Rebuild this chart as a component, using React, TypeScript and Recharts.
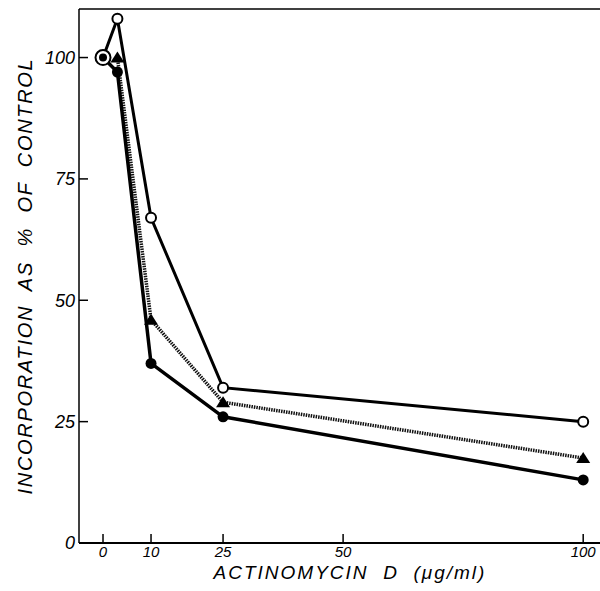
import { Label, Line, LineChart, ReferenceLine, XAxis, YAxis } from 'recharts';

// doses in µg/ml and incorporation (% of control)
const doses = [0, 3, 10, 25, 100];
const openCircles = [100, 108, 67, 32, 25];
const triangles = [null, 100, 46, 29, 17.5];
const filledCircles = [100, 97, 37, 26, 13];

const xTicks = [0, 10, 25, 50, 100];
const yTicks = [0, 25, 50, 75, 100];

const data = doses.map((dose, i) => ({
    dose,
    open: openCircles[i],
    tri: triangles[i],
    filled: filledCircles[i],
}));

const FONT = '"Liberation Sans", Arial, sans-serif';

function OpenDot(props: any) {
    const { cx, cy, index } = props;
    if (cx == null || cy == null) return <g key={`o${index}`} />;
    const r = index === 0 ? 7.5 : 5;
    return <circle key={`o${index}`} cx={cx} cy={cy} r={r} fill="#fff" stroke="#000" strokeWidth={2} />;
}

function FilledDot(props: any) {
    const { cx, cy, index } = props;
    if (cx == null || cy == null) return <g key={`f${index}`} />;
    const r = index === 0 ? 4 : 5.5;
    return <circle key={`f${index}`} cx={cx} cy={cy} r={r} fill="#000" />;
}

function TriDot(props: any) {
    const { cx, cy, index, value } = props;
    if (cx == null || cy == null || value == null) return <g key={`t${index}`} />;
    const pts = `${cx},${cy - 6} ${cx + 7},${cy + 5} ${cx - 7},${cy + 5}`;
    return <polygon key={`t${index}`} points={pts} fill="#000" />;
}

// ticks point into the plot, so draw them by hand
function YTick(props: any) {
    const { x, y, payload } = props;
    return (
        <g>
            {payload.value !== 0 && <line x1={x} y1={y} x2={x + 9} y2={y} stroke="#000" strokeWidth={1.5} />}
            <text
                x={x - 4}
                y={y}
                dy="0.36em"
                textAnchor="end"
                fontFamily={FONT}
                fontStyle="italic"
                fontSize={18}
                fill="#000"
            >
                {payload.value}
            </text>
        </g>
    );
}

function XTick(props: any) {
    const { x, y, payload } = props;
    return (
        <g>
            <line x1={x} y1={y} x2={x} y2={y - 9} stroke="#000" strokeWidth={1.5} />
            <text
                x={x}
                y={y + 14}
                textAnchor="middle"
                fontFamily={FONT}
                fontStyle="italic"
                fontSize={15}
                fill="#000"
            >
                {payload.value}
            </text>
        </g>
    );
}

function YTitle() {
    return (
        <text
            transform="translate(32,276) rotate(-90)"
            textAnchor="middle"
            fontFamily={FONT}
            fontStyle="italic"
            fontSize={20}
            fill="#000"
            style={{ whiteSpace: 'pre', letterSpacing: '1.7px' }}
        >
            {'INCORPORATION  AS  %  OF  CONTROL'}
        </text>
    );
}

function XTitle() {
    return (
        <text
            x={350}
            y={579}
            textAnchor="middle"
            fontFamily={FONT}
            fontStyle="italic"
            fontSize={19}
            fill="#000"
            style={{ whiteSpace: 'pre', letterSpacing: '2px' }}
        >
            {'ACTINOMYCIN  D  (μg/ml)'}
        </text>
    );
}

export default function App() {
    return (
        <div style={{ position: 'absolute', left: 0, top: 0, background: '#fff' }}>
            <LineChart
                width={600}
                height={591}
                data={data}
                margin={{ top: 9, right: 0, left: 0, bottom: 0 }}
                style={{ fontFamily: FONT }}
            >
                <XAxis
                    dataKey="dose"
                    type="number"
                    domain={[-5, 103.5]}
                    ticks={xTicks}
                    allowDataOverflow
                    height={48}
                    axisLine={{ stroke: '#000', strokeWidth: 2 }}
                    tickLine={false}
                    tickSize={0}
                    tickMargin={0}
                    tick={<XTick />}
                >
                    <Label content={<XTitle />} />
                </XAxis>
                <YAxis
                    type="number"
                    domain={[0, 110]}
                    ticks={yTicks}
                    allowDataOverflow
                    width={79}
                    axisLine={{ stroke: '#000', strokeWidth: 1.5 }}
                    tickLine={false}
                    tickSize={0}
                    tickMargin={0}
                    tick={<YTick />}
                >
                    <Label content={<YTitle />} />
                </YAxis>
                <ReferenceLine y={110} stroke="#000" strokeWidth={1.5} />
                <Line
                    dataKey="open"
                    stroke="#000"
                    strokeWidth={3}
                    dot={OpenDot}
                    activeDot={false}
                    isAnimationActive={false}
                />
                <Line
                    dataKey="tri"
                    stroke="#111"
                    strokeWidth={3.5}
                    strokeDasharray="1.5 1"
                    dot={TriDot}
                    activeDot={false}
                    connectNulls
                    isAnimationActive={false}
                />
                <Line
                    dataKey="filled"
                    stroke="#000"
                    strokeWidth={3.5}
                    dot={FilledDot}
                    activeDot={false}
                    isAnimationActive={false}
                />
            </LineChart>
        </div>
    );
}
